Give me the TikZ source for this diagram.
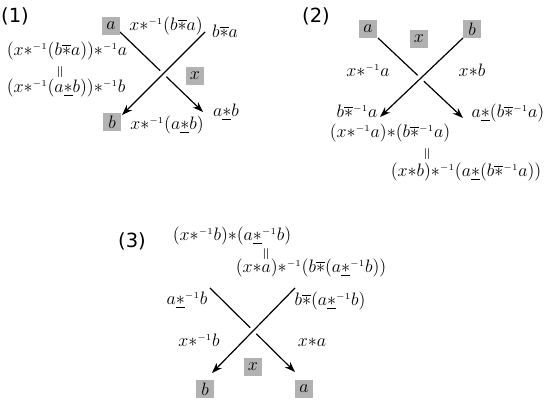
\documentclass[tikz,border=0pt]{standalone}
\usepackage{fontspec}
\usepackage{graphicx}
\newfontfamily\labelfont{DejaVu Sans}
\usetikzlibrary{arrows.meta}
\newcommand{\ost}{{\ast}}
\newcommand{\bst}{{\overline{\ast}}}
\newcommand{\ust}{{\underline{\ast}}}
\newcommand{\mi}{^{\scriptscriptstyle -1}}
\newcommand{\eqv}{\rotatebox{90}{$=$}}
\tikzset{
  lbl/.style={font=\labelfont\fontsize{13}{15}\selectfont, inner sep=0pt},
  gbox/.style={fill=black!30, minimum size=12.5pt, inner sep=0pt, font=\fontsize{11.5}{13}\selectfont},
  txt/.style={anchor=base, inner sep=0pt, font=\fontsize{11.5}{13}\selectfont},
  eqmark/.style={inner sep=0pt, font=\fontsize{10.5}{12}\selectfont},
  strand/.style={line width=0.8pt, -{Stealth[length=7pt,width=5pt]}},
  overstrand/.style={strand, preaction={draw=white, line width=5.5pt, -}}
}
\begin{document}
\begin{tikzpicture}[x=0.6667pt, y=-0.6667pt]
\useasboundingbox (0,0) rectangle (545,400);

% ---------- Panel (1) ----------
\node[lbl] (l1) at (15,16) {(1)};
\coordinate (p1s1) at (120,32);
\coordinate (p1e1) at (203,112);
\coordinate (p1s2) at (205,32);
\coordinate (p1e2) at (122,115);
\draw[strand] (p1s1) -- (p1e1);
\draw[overstrand] (p1s2) -- (p1e2);
\node[gbox] (p1a) at (111,26) {$a$};
\node[gbox] (p1b) at (112,122) {$b$};
\node[gbox] (p1x) at (195,76) {$x$};
\node[txt] (p1t1) at (166,31) {$x\ost\mi(b\bst a)$};
\node[txt] (p1t2) at (225,38) {$b\bst a$};
\node[txt] (p1t3) at (67,56) {$(x\ost\mi(b\bst a))\ost\mi a$};
\node[eqmark] (p1eq) at (61,72) {\eqv};
\node[txt] (p1t4) at (66,93) {$(x\ost\mi(a\ust b))\ost\mi b$};
\node[txt] (p1t5) at (167,130) {$x\ost\mi(a\ust b)$};
\node[txt] (p1t6) at (226,117) {$a\ust b$};

% ---------- Panel (2) ----------
\node[lbl] (l2) at (316,16) {(2)};
\coordinate (p2s1) at (378,38);
\coordinate (p2e1) at (463,118);
\coordinate (p2s2) at (463,38);
\coordinate (p2e2) at (380,117);
\draw[strand] (p2s1) -- (p2e1);
\draw[overstrand] (p2s2) -- (p2e2);
\node[gbox] (p2a) at (368,29) {$a$};
\node[gbox] (p2x) at (419,39) {$x$};
\node[gbox] (p2b) at (472,29) {$b$};
\node[txt] (p2t1) at (368,77) {$x\ost\mi a$};
\node[txt] (p2t2) at (472,77) {$x\ost b$};
\node[txt] (p2t3) at (357,118) {$b\bst\mi a$};
\node[txt] (p2t4) at (508,118) {$a\ust(b\bst\mi a)$};
\node[txt] (p2t5) at (390,138) {$(x\ost\mi a)\ost(b\bst\mi a)$};
\node[eqmark] (p2eq) at (428,154) {\eqv};
\node[txt] (p2t6) at (466,177) {$(x\ost b)\ost\mi(a\ust(b\bst\mi a))$};

% ---------- Panel (3) ----------
\node[lbl] (l3) at (132,241) {(3)};
\coordinate (p3s1) at (210,288);
\coordinate (p3e1) at (295,372);
\coordinate (p3s2) at (295,288);
\coordinate (p3e2) at (212,373);
\draw[strand] (p3s1) -- (p3e1);
\draw[overstrand] (p3s2) -- (p3e2);
\node[txt] (p3t1) at (232,241) {$(x\ost\mi b)\ost(a\ust\mi b)$};
\node[eqmark] (p3eq) at (267,254) {\eqv};
\node[txt] (p3t2) at (311,273) {$(x\ost a)\ost\mi(b\bst(a\ust\mi b))$};
\node[txt] (p3t3) at (187,305) {$a\ust\mi b$};
\node[txt] (p3t4) at (330,306) {$b\bst(a\ust\mi b)$};
\node[txt] (p3t5) at (199,347) {$x\ost\mi b$};
\node[txt] (p3t6) at (312,347) {$x\ost a$};
\node[gbox] (p3x) at (253,367) {$x$};
\node[gbox] (p3b) at (205,389) {$b$};
\node[gbox] (p3a) at (304,389) {$a$};
\end{tikzpicture}
\end{document}
